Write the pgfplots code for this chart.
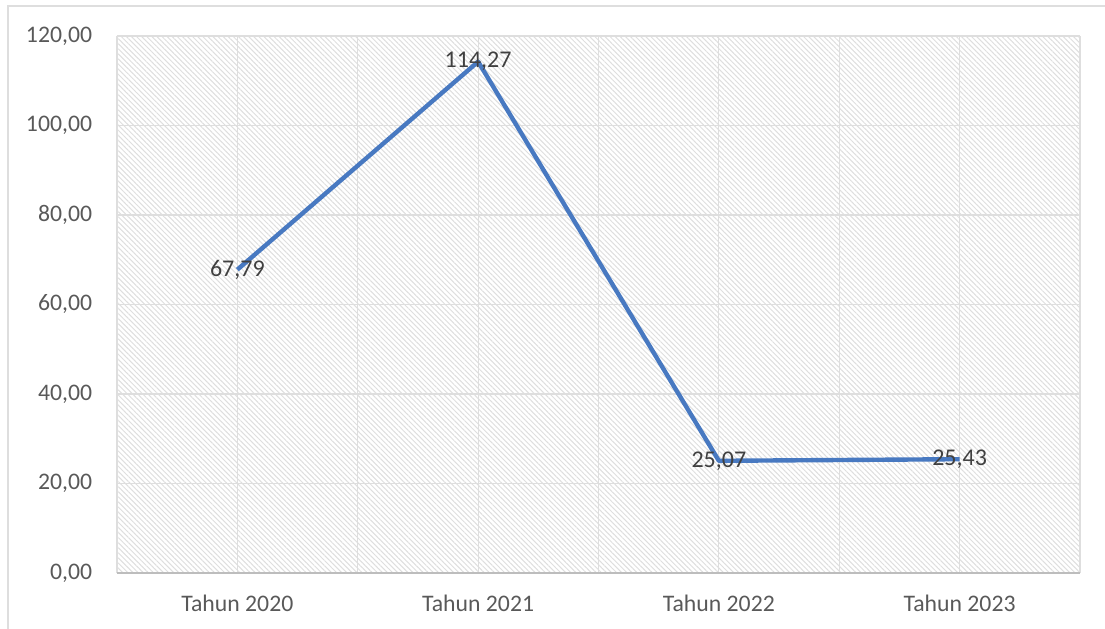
\documentclass[border=0pt]{standalone}
\usepackage{pgfplots}
\pgfplotsset{compat=1.18}
\usetikzlibrary{patterns.meta}
\usepackage{fontspec}
\setmainfont{Carlito}
\definecolor{lineblue}{RGB}{72,121,193}
\definecolor{gridc}{RGB}{222,222,222}
\definecolor{hatchc}{RGB}{222,222,222}
\definecolor{tickc}{RGB}{89,89,89}
\definecolor{labc}{RGB}{64,64,64}
\begin{document}
\begin{tikzpicture}[x=0.75pt,y=0.75pt]
\useasboundingbox (-117,-55) rectangle (988,573);
\draw[gridc, line width=1.5pt] (-109,-60) -- (-109,567) -- (995,567);
\begin{axis}[
  at={(0,0)}, anchor=south west,
  scale only axis,
  width=722.25pt, height=402.75pt,
  xmin=-0.5, xmax=3.5, ymin=0, ymax=120,
  xtick={0,1,2,3},
  xticklabels={Tahun 2020,Tahun 2021,Tahun 2022,Tahun 2023},
  minor xtick={-0.5,0.5,1.5,2.5,3.5},
  ytick={0,20,40,60,80,100,120},
  xmajorgrids, xminorgrids, ymajorgrids,
  grid style={gridc, line width=0.9pt},
  minor grid style={gridc, line width=0.9pt},
  major tick length=0pt, minor tick length=0pt,
  tick style={draw=none},
  axis line style={draw=none},
  axis background/.style={pattern={Lines[angle=135, distance=2.7pt, line width=0.75pt]}, pattern color=hatchc},
  tick label style={font=\fontsize{17.8}{20}\selectfont, color=tickc},
  x tick label style={anchor=base, inner sep=0pt, yshift=-28.5pt},
  y tick label style={anchor=east, inner sep=0pt, xshift=-18.5pt},
  yticklabel style={/pgf/number format/.cd, fixed, fixed zerofill, precision=2, use comma, assume math mode=true},
  clip=false,
]
\draw[gridc!85!black, line width=1pt] (axis cs:-0.5,0) -- (axis cs:3.5,0);
\addplot[lineblue, line width=3.3pt, line join=round,
  nodes near coords,
  every node near coord/.append style={anchor=center, font=\fontsize{18}{20}\selectfont, color=labc,
    /pgf/number format/.cd, fixed, fixed zerofill, precision=2, use comma, assume math mode=true},
] coordinates {(0,67.79) (1,114.27) (2,25.07) (3,25.43)};
\end{axis}
\end{tikzpicture}
\end{document}
